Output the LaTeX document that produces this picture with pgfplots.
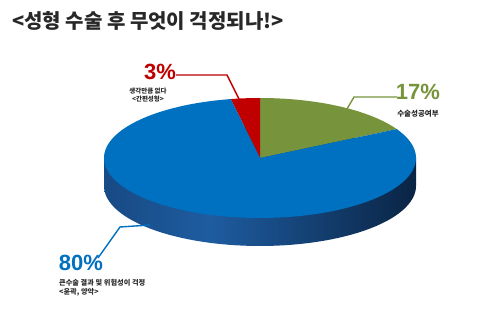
\documentclass[border=0pt]{standalone}
\usepackage{pgfplots}
\pgfplotsset{compat=1.18}
\usepackage{fontspec}
\setmainfont{Liberation Sans}
\newfontfamily\kr{Noto Sans CJK KR}
\definecolor{pblue}{RGB}{0,112,192}
\definecolor{pgreen}{RGB}{119,147,60}
\definecolor{pred}{RGB}{192,0,0}
\definecolor{sideL}{RGB}{24,74,132}
\definecolor{sideM}{RGB}{30,92,160}
\definecolor{sideR}{RGB}{10,36,68}
\definecolor{txt}{RGB}{40,40,40}
\pgfdeclarehorizontalshading{pieside}{100bp}{color(0bp)=(sideL); color(25bp)=(sideL); color(42bp)=(sideM); color(75bp)=(sideR); color(100bp)=(sideR)}
% pie data (percent)
\def\pGreen{17}
\def\pRed{3}
\def\pBlue{80}
\pgfmathsetmacro{\aGreenEnd}{90-\pGreen*3.6}
\pgfmathsetmacro{\aRedEnd}{90+\pRed*3.6}
\pgfmathsetmacro{\aBlueEnd}{\aRedEnd+\pBlue*3.6}
\def\cx{260}\def\cy{158}\def\rx{156}\def\ry{60}\def\th{28}
\begin{document}
\begin{tikzpicture}
\begin{axis}[scale only axis, width=499pt, height=318pt,
  xmin=0, xmax=499, ymin=0, ymax=318, y dir=reverse,
  axis lines=none, clip=false]
\addplot[draw=none] coordinates {(0,0) (499,318)};
% side of the pie
\addplot[draw=none, shade, shading=pieside, domain=0:360, samples=121]
  ({\cx+\rx*cos(x)},{\cy+\th-\ry*sin(x)});
\addplot[draw=none, shade, shading=pieside] coordinates
  {(\cx-\rx,\cy) (\cx+\rx,\cy) (\cx+\rx,\cy+\th) (\cx-\rx,\cy+\th)};
% top slices
\addplot[draw=none, fill=pgreen, domain=\aGreenEnd:90, samples=40]
  ({\cx+\rx*cos(x)},{\cy-\ry*sin(x)}) -- (axis cs:\cx,\cy) -- cycle;
\addplot[draw=none, fill=pred, domain=90:\aRedEnd, samples=10]
  ({\cx+\rx*cos(x)},{\cy-\ry*sin(x)}) -- (axis cs:\cx,\cy) -- cycle;
\addplot[draw=none, fill=pblue, domain=\aRedEnd:\aBlueEnd, samples=160]
  ({\cx+\rx*cos(x)},{\cy-\ry*sin(x)}) -- (axis cs:\cx,\cy) -- cycle;
% leader lines
\addplot[pred, line width=1.4pt] coordinates {(176,75) (227,75) (240,101)};
\addplot[pgreen, line width=1.4pt] coordinates {(347,109) (354,97) (397,97)};
\addplot[pblue, line width=1.4pt] coordinates {(98,258) (120,227) (150,225)};
% title
\node[anchor=west, text=txt, inner sep=0pt, font={\kr\bfseries\fontsize{20}{20}\selectfont}] at (axis cs:12,21)
  {<성형 수술 후 무엇이 걱정되나!>};
% labels
\node[text=pred, inner sep=0pt, font={\bfseries\fontsize{22}{22}\selectfont}] at (axis cs:160,72) {3\%};
\node[text=txt, inner sep=0pt, align=center, font={\kr\bfseries\fontsize{6.5}{8.5}\selectfont}] at (axis cs:148,95)
  {생각만큼 없다\\<간편성형>};
\node[text=pgreen, inner sep=0pt, font={\bfseries\fontsize{22}{22}\selectfont}] at (axis cs:418,92) {17\%};
\node[text=txt, inner sep=0pt, font={\kr\bfseries\fontsize{7.5}{8}\selectfont}] at (axis cs:418,114) {수술성공여부};
\node[text=pblue, inner sep=0pt, font={\bfseries\fontsize{22}{22}\selectfont}] at (axis cs:81,263) {80\%};
\node[text=txt, inner sep=0pt, anchor=north west, align=left, font={\kr\bfseries\fontsize{7.2}{9.5}\selectfont}] at (axis cs:59,279)
  {큰수술 결과 및 위험성이 걱정\\<윤곽, 양악>};
\end{axis}
\end{tikzpicture}
\end{document}
